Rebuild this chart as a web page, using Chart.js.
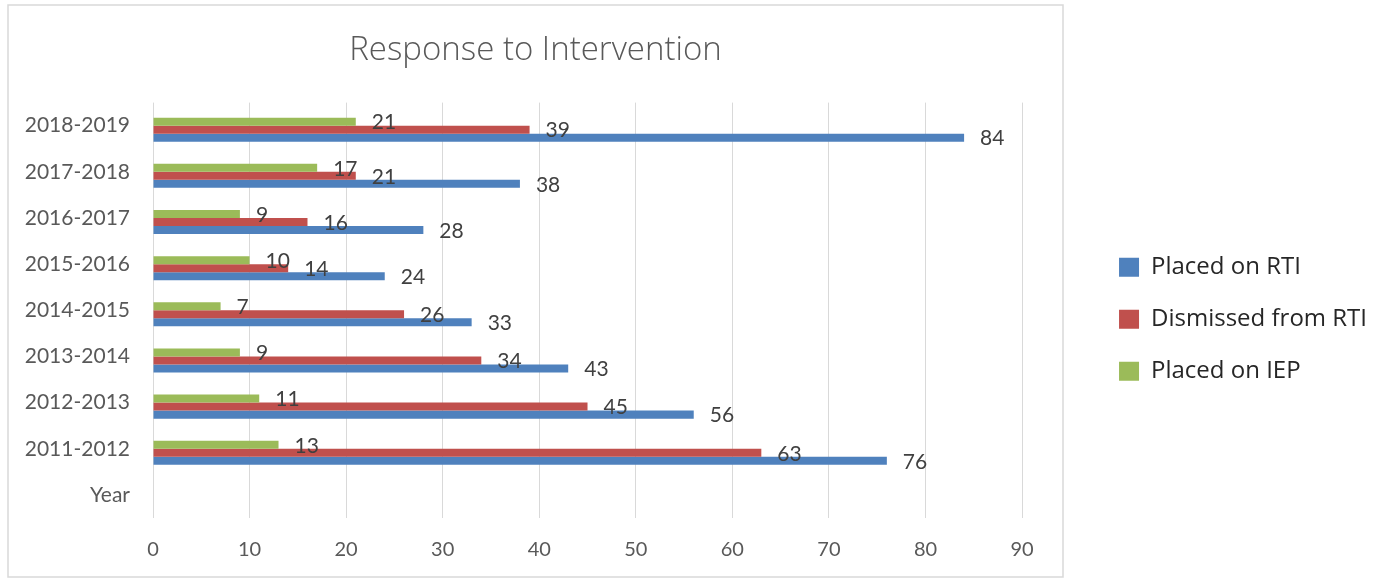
<!DOCTYPE html>
<html>
<head>
<meta charset="utf-8">
<title>Response to Intervention</title>
<script src="https://cdn.jsdelivr.net/npm/chart.js@4.4.1/dist/chart.umd.min.js"></script>
<style>
  html, body { margin: 0; padding: 0; background: #ffffff; overflow: hidden; }
  #wrap { position: relative; width: 1386px; height: 579px; }
  #chart { display: block; }
</style>
</head>
<body>
<div id="wrap"><canvas id="chart"></canvas></div>
<script>
// School years, bottom to top (the sheet's "Year" header row sits at the bottom)
const categories = ['Year', '2011-2012', '2012-2013', '2013-2014', '2014-2015',
                    '2015-2016', '2016-2017', '2017-2018', '2018-2019'];

// Student counts per year
const placedOnRti      = [null, 76, 56, 43, 33, 24, 28, 38, 84];
const dismissedFromRti = [null, 63, 45, 34, 26, 14, 16, 21, 39];
const placedOnIep      = [null, 13, 11,  9,  7, 10,  9, 17, 21];

// The "Year" column of the sheet has no values; it only keeps an empty slot in each group
const yearColumn = [null, null, null, null, null, null, null, null, null];

// Value axis ticks
const xTickValues = [0, 10, 20, 30, 40, 50, 60, 70, 80, 90];

const COLORS = { rti: '#4f81bd', dismissed: '#c0504d', iep: '#9bbb59' };
const FRAME = { left: 8, top: 5, right: 1063, bottom: 577 };
const LEGEND_SHIFT = 9;

// Outer chart frame, white background, and title/legend placement
const framePlugin = {
  id: 'framePlugin',
  afterLayout(chart) {
    const t = chart.titleBlock;
    if (t) { t.left = FRAME.left; t.right = FRAME.right; t.width = FRAME.right - FRAME.left; }
    const lg = chart.legend;
    if (lg) { lg.top += LEGEND_SHIFT; lg.bottom += LEGEND_SHIFT; }
  },
  beforeDraw(chart) {
    const ctx = chart.ctx;
    ctx.save();
    ctx.fillStyle = '#ffffff';
    ctx.fillRect(0, 0, chart.width, chart.height);
    ctx.strokeStyle = '#d9d9d9';
    ctx.lineWidth = 1.5;
    ctx.strokeRect(FRAME.left, FRAME.top, FRAME.right - FRAME.left, FRAME.bottom - FRAME.top);
    ctx.restore();
  }
};

// Value labels just past the end of each bar
const valueLabels = {
  id: 'valueLabels',
  afterDatasetsDraw(chart) {
    const ctx = chart.ctx;
    ctx.save();
    ctx.font = '21px Lato';
    ctx.fillStyle = '#404040';
    ctx.textAlign = 'left';
    ctx.textBaseline = 'middle';
    chart.data.datasets.forEach((ds, i) => {
      const meta = chart.getDatasetMeta(i);
      if (meta.hidden) return;
      meta.data.forEach((bar, j) => {
        const v = ds.data[j];
        if (v === null || v === undefined) return;
        ctx.fillText(String(v), bar.x + 16, bar.y + 1);
      });
    });
    ctx.restore();
  }
};

new Chart(document.getElementById('chart'), {
  type: 'bar',
  data: {
    labels: categories,
    datasets: [
      { label: '', data: yearColumn, backgroundColor: 'rgba(0,0,0,0)', borderWidth: 0 },
      { label: 'Placed on IEP', data: placedOnIep, backgroundColor: COLORS.iep, borderWidth: 0 },
      { label: 'Dismissed from RTI', data: dismissedFromRti, backgroundColor: COLORS.dismissed, borderWidth: 0 },
      { label: 'Placed on RTI', data: placedOnRti, backgroundColor: COLORS.rti, borderWidth: 0 }
    ]
  },
  options: {
    indexAxis: 'y',
    responsive: true,
    maintainAspectRatio: false,
    animation: false,
    events: [],
    categoryPercentage: 0.694,
    barPercentage: 1.0,
    layout: { padding: { left: 0, right: 9, top: 8, bottom: 18 } },
    scales: {
      x: {
        type: 'linear',
        min: 0,
        max: 90,
        afterBuildTicks(scale) { scale.ticks = xTickValues.map(v => ({ value: v })); },
        afterFit(scale) { scale.height = 43; },
        grid: { color: '#d9d9d9', lineWidth: 1, drawTicks: false },
        border: { display: false },
        ticks: { color: '#595959', font: { family: 'Lato', size: 20 }, padding: 20, maxRotation: 0 }
      },
      y: {
        type: 'category',
        reverse: true,
        afterFit(scale) { scale.width = 153; },
        grid: { display: false, drawTicks: false },
        border: { display: false },
        ticks: { color: '#595959', font: { family: 'Lato', size: 21 }, padding: 23 }
      },
      gutter: {
        type: 'linear',
        position: 'right',
        display: true,
        afterFit(scale) { scale.width = 69; },
        grid: { display: false, drawTicks: false },
        border: { display: false },
        ticks: { display: false }
      }
    },
    plugins: {
      title: {
        display: true,
        text: 'Response to Intervention',
        color: '#595959',
        font: { family: 'Open Sans', size: 33, weight: '300' },
        padding: { top: 23, bottom: 32 }
      },
      legend: {
        display: true,
        position: 'right',
        fullSize: false,
        align: 'center',
        reverse: true,
        maxWidth: 340,
        labels: {
          boxWidth: 20,
          boxHeight: 19,
          padding: 28,
          color: '#262626',
          font: { family: 'Open Sans', size: 24 },
          filter: (item) => item.datasetIndex !== 0
        }
      },
      tooltip: { enabled: false }
    }
  },
  plugins: [framePlugin, valueLabels]
});
</script>
</body>
</html>
